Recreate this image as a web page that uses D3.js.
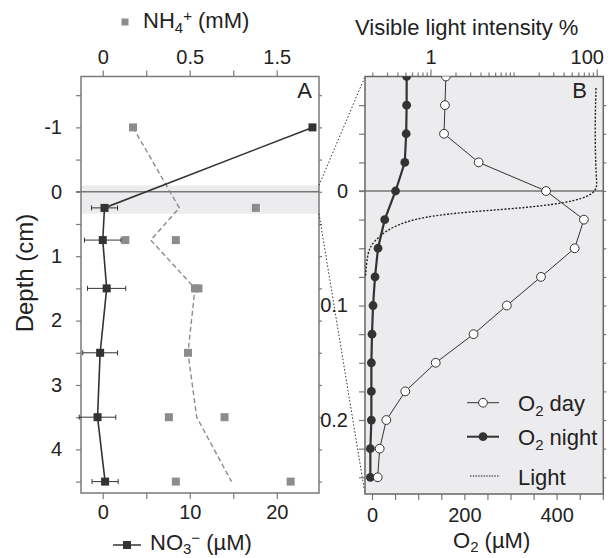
<!DOCTYPE html>
<html>
<head>
<meta charset="utf-8">
<script src="https://cdn.jsdelivr.net/npm/d3@7"></script>
<style>
  body { margin: 0; background: #fff; }
  svg { display: block; font-family: "Liberation Sans", Arial, Helvetica, sans-serif; }
</style>
</head>
<body>
<div id="chart"></div>
<script>
// ---- data: panel A ----
const depthsA = [-1, 0.25, 0.75, 1.5, 2.5, 3.5, 4.5];
const no3 = [24.1, 0.2, 0.0, 0.45, -0.3, -0.6, 0.27];
const no3Err = [0, 1.5, 2.1, 2.2, 2.0, 2.1, 1.5];
const nh4Mean = [0.174, 0.44, 0.276, 0.53, 0.49, 0.54, 0.74];
const nh4Depth = [-1, 0.25, 0.75, 0.75, 1.5, 1.5, 2.5, 3.5, 3.5, 4.5, 4.5];
const nh4Value = [0.174, 0.88, 0.13, 0.42, 0.53, 0.55, 0.49, 0.38, 0.70, 0.42, 1.08];
const depthTicksA = [-1.5, -1, -0.5, 0, 0.5, 1, 1.5, 2, 2.5, 3, 3.5, 4, 4.5];
const nh4Ticks = [0, 0.25, 0.5, 0.75, 1];
const nh4TickLabels = ["0", "", "0.5", "", "1.5"];
const no3Ticks = [0, 5, 10, 15, 20];
const no3TickLabels = ["0", "", "10", "", "20"];

// ---- data: panel B ----
const depthsB = [-0.1, -0.075, -0.05, -0.025, 0, 0.025, 0.05, 0.075, 0.1, 0.125, 0.15, 0.175, 0.2, 0.225, 0.25];
const o2Day = [160, 158, 156, 231, 377, 459, 439, 366, 292, 220, 138, 72, 31, 16.6, 12.3];
const o2Night = [75, 75, 74, 71, 51, 27.5, 13, 6.5, 2.2, 0, -1.4, -1.4, -1.4, -3.6, -3.6];
const lightDepth = [-0.09, -0.054, -0.01, 0, 0.009, 0.0146, 0.0178, 0.0222, 0.031, 0.045, 0.054, 0.075];
const lightValue = [98, 95, 98, 104, 60, 14.6, 3.3, 0.82, 0.33, 0.2, 0.174, 0.165];
const depthTicksB = [-0.075, -0.05, -0.025, 0, 0.025, 0.05, 0.075, 0.1, 0.125, 0.15, 0.175, 0.2, 0.225, 0.25];
const depthLabelsB = [0, 0.1, 0.2];
const o2Ticks = [0, 50, 100, 150, 200, 250, 300, 350, 400, 450, 500];
const o2TickLabels = [0, 200, 400];
const lightTicks = [0.2, 0.3, 0.4, 0.5, 0.6, 0.7, 0.8, 0.9, 1, 2, 3, 4, 5, 6, 7, 8, 9, 10, 20, 30, 40, 50, 60, 70, 80, 90, 100];
const lightTickLabels = [1, 100];

const W = 611, H = 558;
const A = { left: 81, right: 319, top: 76.5, bottom: 493 };
const B = { left: 365, right: 603.3, top: 76.5, bottom: 494 };
const frameColor = "#7a7a7a";
const dark = "#333";
const mid = "#8c8c8c";

const svg = d3.select("#chart").append("svg")
    .attr("width", W).attr("height", H);

// scales
const xNO3 = d3.scaleLinear().domain([-2.5, 24.85]).range([A.left, A.right]);
const xNH4 = d3.scaleLinear().domain([-0.125, 1.243]).range([A.left, A.right]);
const yA = d3.scaleLinear().domain([-1.79, 4.677]).range([A.top, A.bottom]);

const xO2 = d3.scaleLinear().domain([-15.2, 501]).range([B.left, B.right]);
const xLight = d3.scaleLog().domain([0.163, 120]).range([B.left, B.right]);
const yB = d3.scaleLinear().domain([-0.1, 0.2646]).range([B.top, B.bottom]);

function styleAxis(g, size) {
    g.select(".domain").remove();
    g.selectAll(".tick line").attr("stroke", frameColor).attr("stroke-width", 1.2);
    g.selectAll(".tick text").attr("fill", "#222").style("font-size", size + "px")
        .style("font-family", "'Liberation Sans', Arial, sans-serif");
}

// ---------------- panel A ----------------
svg.append("rect")
    .attr("x", A.left).attr("y", yA(-0.1))
    .attr("width", A.right - A.left).attr("height", yA(0.34) - yA(-0.1))
    .attr("fill", "#ececee");
svg.append("line")
    .attr("x1", A.left - 5).attr("x2", A.right)
    .attr("y1", yA(0)).attr("y2", yA(0))
    .attr("stroke", "#777").attr("stroke-width", 1.5);

// axes A
svg.append("g").attr("transform", `translate(${A.left},0)`)
    .call(d3.axisLeft(yA).tickValues(depthTicksA).tickSize(5).tickPadding(14)
        .tickFormat(d => Number.isInteger(d) ? d : ""))
    .call(g => styleAxis(g, 20));
svg.append("g").attr("transform", `translate(${A.right},0)`)
    .call(d3.axisRight(yA).tickValues(depthTicksA).tickSize(3).tickFormat(""))
    .call(g => styleAxis(g, 20));
svg.append("g").attr("transform", `translate(0,${A.top})`)
    .call(d3.axisTop(xNH4).tickValues(nh4Ticks).tickSize(6).tickPadding(7)
        .tickFormat((d, i) => nh4TickLabels[i]))
    .call(g => styleAxis(g, 20));
svg.append("g").attr("transform", `translate(0,${A.bottom})`)
    .call(d3.axisBottom(xNO3).tickValues(no3Ticks).tickSize(6).tickPadding(6)
        .tickFormat((d, i) => no3TickLabels[i]))
    .call(g => styleAxis(g, 20));

svg.append("rect")
    .attr("x", A.left).attr("y", A.top)
    .attr("width", A.right - A.left).attr("height", A.bottom - A.top)
    .attr("fill", "none").attr("stroke", frameColor).attr("stroke-width", 1.5);

// NH4 mean dashed line
svg.append("path")
    .datum(depthsA.map((d, i) => ({ depth: d, v: nh4Mean[i] })))
    .attr("fill", "none").attr("stroke", mid).attr("stroke-width", 1.4)
    .attr("stroke-dasharray", "5,3")
    .attr("d", d3.line().x(d => xNH4(d.v)).y(d => yA(d.depth)));

svg.selectAll(".nh4")
    .data(nh4Depth.map((d, i) => ({ depth: d, v: nh4Value[i] })))
    .enter().append("rect")
    .attr("x", d => xNH4(d.v) - 4).attr("y", d => yA(d.depth) - 4)
    .attr("width", 8).attr("height", 8)
    .attr("fill", mid);

// NO3 line, error bars, squares
const no3Data = depthsA.map((d, i) => ({ depth: d, v: no3[i], e: no3Err[i] }));
svg.append("path")
    .datum(no3Data)
    .attr("fill", "none").attr("stroke", dark).attr("stroke-width", 1.6)
    .attr("d", d3.line().x(d => xNO3(d.v)).y(d => yA(d.depth)));

const err = svg.selectAll(".err").data(no3Data.filter(d => d.e > 0)).enter().append("g")
    .attr("stroke", dark).attr("stroke-width", 1);
err.append("line")
    .attr("x1", d => xNO3(d.v - d.e)).attr("x2", d => xNO3(d.v + d.e))
    .attr("y1", d => yA(d.depth)).attr("y2", d => yA(d.depth));
err.append("line")
    .attr("x1", d => xNO3(d.v - d.e)).attr("x2", d => xNO3(d.v - d.e))
    .attr("y1", d => yA(d.depth) - 2.5).attr("y2", d => yA(d.depth) + 2.5);
err.append("line")
    .attr("x1", d => xNO3(d.v + d.e)).attr("x2", d => xNO3(d.v + d.e))
    .attr("y1", d => yA(d.depth) - 2.5).attr("y2", d => yA(d.depth) + 2.5);

svg.selectAll(".no3").data(no3Data).enter().append("rect")
    .attr("x", d => xNO3(d.v) - 4).attr("y", d => yA(d.depth) - 4)
    .attr("width", 8).attr("height", 8)
    .attr("fill", dark);

svg.append("text").attr("x", 312).attr("y", 98).attr("text-anchor", "end")
    .style("font-size", "22px").attr("fill", "#222").text("A");

// ---------------- connectors ----------------
svg.append("line")
    .attr("x1", A.right).attr("y1", yA(-0.1)).attr("x2", B.left).attr("y2", B.top)
    .attr("stroke", "#333").attr("stroke-width", 1).attr("stroke-dasharray", "1.5,2");
svg.append("line")
    .attr("x1", A.right).attr("y1", yA(0.34)).attr("x2", B.left).attr("y2", B.bottom)
    .attr("stroke", "#333").attr("stroke-width", 1).attr("stroke-dasharray", "1.5,2");

// ---------------- panel B ----------------
svg.append("rect")
    .attr("x", B.left).attr("y", B.top)
    .attr("width", B.right - B.left).attr("height", B.bottom - B.top)
    .attr("fill", "#ececee");

svg.append("defs").append("clipPath").attr("id", "clipB")
    .append("rect")
    .attr("x", B.left).attr("y", B.top)
    .attr("width", B.right - B.left).attr("height", B.bottom - B.top);

svg.append("line")
    .attr("x1", B.left - 6).attr("x2", B.right)
    .attr("y1", yB(0)).attr("y2", yB(0))
    .attr("stroke", "#777").attr("stroke-width", 1.5);

svg.append("g").attr("transform", `translate(${B.left},0)`)
    .call(d3.axisLeft(yB).tickValues(depthTicksB).tickSize(6).tickPadding(11)
        .tickFormat(d => depthLabelsB.some(v => Math.abs(v - d) < 1e-9) ? d : ""))
    .call(g => styleAxis(g, 20));
svg.append("g").attr("transform", `translate(${B.right},0)`)
    .call(d3.axisRight(yB).tickValues(depthTicksB).tickSize(3).tickFormat(""))
    .call(g => styleAxis(g, 20));
svg.append("g").attr("transform", `translate(0,${B.bottom})`)
    .call(d3.axisBottom(xO2).tickValues(o2Ticks).tickSize(6).tickPadding(8)
        .tickFormat(d => o2TickLabels.includes(d) ? d : ""))
    .call(g => styleAxis(g, 20));
svg.append("g").attr("transform", `translate(0,${B.top})`)
    .call(d3.axisTop(xLight).tickValues(lightTicks).tickSize(4).tickPadding(9)
        .tickFormat(d => lightTickLabels.includes(d) ? d : ""))
    .call(g => styleAxis(g, 20))
    .call(g => g.selectAll(".tick").filter(d => lightTickLabels.includes(d))
        .select("line").attr("y2", -7))
    .call(g => g.selectAll(".tick").filter(d => d === 100)
        .select("text").attr("dx", -10));

svg.append("rect")
    .attr("x", B.left).attr("y", B.top)
    .attr("width", B.right - B.left).attr("height", B.bottom - B.top)
    .attr("fill", "none").attr("stroke", "#666").attr("stroke-width", 1.5);

const plotB = svg.append("g").attr("clip-path", "url(#clipB)");

// light profile
plotB.append("path")
    .datum(lightDepth.map((d, i) => ({ depth: d, v: lightValue[i] })))
    .attr("fill", "none").attr("stroke", "#222").attr("stroke-width", 1.4)
    .attr("stroke-dasharray", "2,1.6")
    .attr("d", d3.line().curve(d3.curveBasis).x(d => xLight(d.v)).y(d => yB(d.depth)));

const nightData = depthsB.map((d, i) => ({ depth: d, v: o2Night[i] }));
const dayData = depthsB.map((d, i) => ({ depth: d, v: o2Day[i] }));

plotB.append("path").datum(nightData)
    .attr("fill", "none").attr("stroke", dark).attr("stroke-width", 2.2)
    .attr("d", d3.line().x(d => xO2(d.v)).y(d => yB(d.depth)));
plotB.selectAll(".night").data(nightData).enter().append("circle")
    .attr("cx", d => xO2(d.v)).attr("cy", d => yB(d.depth)).attr("r", 4.4)
    .attr("fill", dark);

plotB.append("path").datum(dayData)
    .attr("fill", "none").attr("stroke", dark).attr("stroke-width", 1)
    .attr("d", d3.line().x(d => xO2(d.v)).y(d => yB(d.depth)));
plotB.selectAll(".day").data(dayData).enter().append("circle")
    .attr("cx", d => xO2(d.v)).attr("cy", d => yB(d.depth)).attr("r", 4.4)
    .attr("fill", "#fff").attr("stroke", dark).attr("stroke-width", 1);

svg.append("text").attr("x", 587).attr("y", 98).attr("text-anchor", "end")
    .style("font-size", "22px").attr("fill", "#222").text("B");

// legend B
const leg = svg.append("g").style("font-size", "22px").attr("fill", "#222");
leg.append("line").attr("x1", 467).attr("x2", 499).attr("y1", 402.7).attr("y2", 402.7)
    .attr("stroke", dark).attr("stroke-width", 1);
leg.append("circle").attr("cx", 483).attr("cy", 402.7).attr("r", 4.4)
    .attr("fill", "#fff").attr("stroke", dark);
leg.append("line").attr("x1", 467).attr("x2", 499).attr("y1", 436.7).attr("y2", 436.7)
    .attr("stroke", dark).attr("stroke-width", 2);
leg.append("circle").attr("cx", 483).attr("cy", 436.7).attr("r", 4.4).attr("fill", dark);
leg.append("line").attr("x1", 470).attr("x2", 500).attr("y1", 476).attr("y2", 476)
    .attr("stroke", "#222").attr("stroke-width", 1.2).attr("stroke-dasharray", "1.5,1.2");

function o2Label(sel, rest) {
    sel.append("tspan").text("O");
    sel.append("tspan").attr("dy", 5).style("font-size", "15px").text("2");
    sel.append("tspan").attr("dy", -5).text(rest);
}
leg.append("text").attr("x", 518).attr("y", 411).call(o2Label, " day");
leg.append("text").attr("x", 518).attr("y", 445).call(o2Label, " night");
leg.append("text").attr("x", 518).attr("y", 485).text("Light");

// ---------------- titles ----------------
const titles = svg.append("g").style("font-size", "22px").attr("fill", "#222");

titles.append("rect").attr("x", 121.5).attr("y", 18.5).attr("width", 7).attr("height", 7).attr("fill", mid);
const nh4Title = titles.append("text").attr("x", 143).attr("y", 28);
nh4Title.append("tspan").text("NH");
nh4Title.append("tspan").attr("dy", 5).style("font-size", "15px").text("4");
nh4Title.append("tspan").attr("dy", -12).style("font-size", "15px").text("+");
nh4Title.append("tspan").attr("dy", 7).text(" (mM)");

titles.append("text").attr("x", 355).attr("y", 35).text("Visible light intensity %");

titles.append("text")
    .attr("transform", "translate(33,273) rotate(-90)")
    .attr("text-anchor", "middle").style("font-size", "24px")
    .text("Depth (cm)");

titles.append("line").attr("x1", 113).attr("x2", 141).attr("y1", 545).attr("y2", 545)
    .attr("stroke", dark).attr("stroke-width", 1.5);
titles.append("rect").attr("x", 123).attr("y", 541).attr("width", 8).attr("height", 8).attr("fill", dark);
const no3Title = titles.append("text").attr("x", 150).attr("y", 550);
no3Title.append("tspan").text("NO");
no3Title.append("tspan").attr("dy", 4).style("font-size", "15px").text("3");
no3Title.append("tspan").attr("dy", -11).style("font-size", "15px").text("\u2212");
no3Title.append("tspan").attr("dy", 7).text(" (\u00b5M)");

const o2Title = titles.append("text").attr("x", 453).attr("y", 548);
o2Title.append("tspan").text("O");
o2Title.append("tspan").attr("dy", 4).style("font-size", "15px").text("2");
o2Title.append("tspan").attr("dy", -4).text(" (\u00b5M)");
</script>
</body>
</html>
